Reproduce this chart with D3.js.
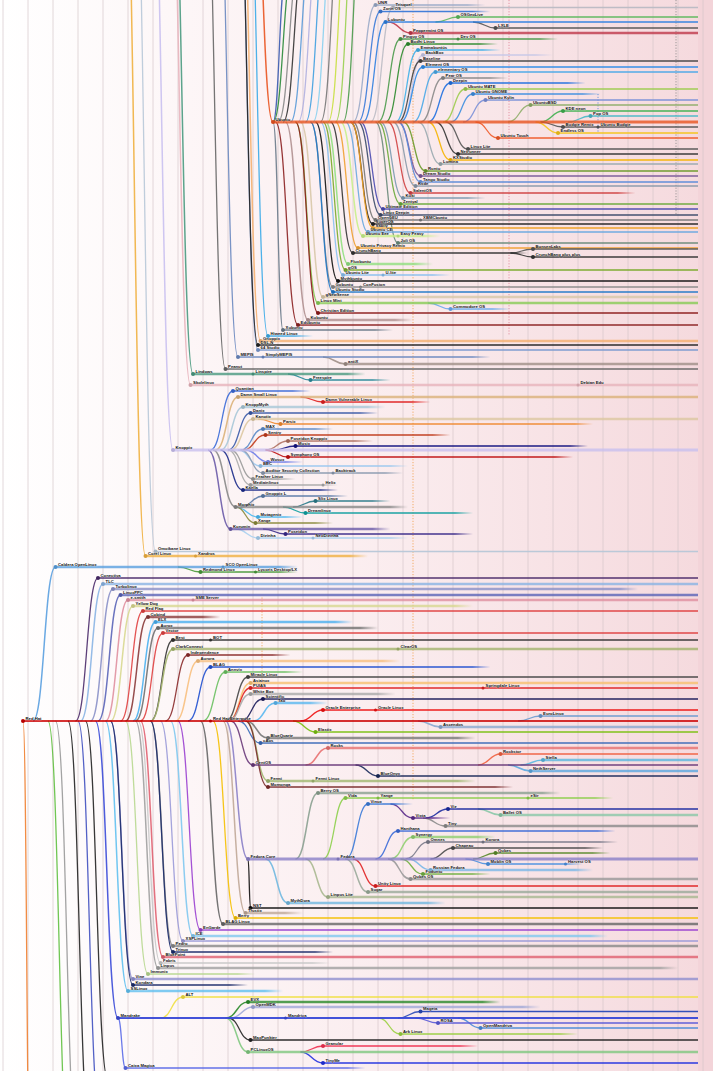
<!DOCTYPE html>
<html><head><meta charset="utf-8">
<script src="https://cdn.jsdelivr.net/npm/d3@7/dist/d3.min.js"></script>
<style>
body{margin:0;overflow:hidden;background:#fff}
text{font-family:"Liberation Sans",Arial,sans-serif}
</style>
</head><body>
<svg id="chart" width="713" height="1071"></svg>
<script>
// ---------- DATA ----------
const PRESENT = 2021.8;
const years = d3.range(1994, 2023);

// [name, parent, start year, end year, lane]
const debianTree = [
  ["Debian", null, 1993.6, PRESENT, -40],
  ["Corel Linux", "Debian", 1999.7, 2008.6, 111.2],
  ["Omoikane Linux", "Debian", 2000.1, PRESENT, 110.3],
  ["Knoppix", "Debian", 2000.8, PRESENT, 90],
  ["Lindows", "Debian", 2001.6, 2008.5, 74.8],
  ["Freespire", "Lindows", 2006.3, 2009.5, 76],
  ["Skolelinux", "Debian", 2001.5, PRESENT, 77],
  ["Peanut", "Debian", 2002.9, PRESENT, 73.8],
  ["MEPIS", "Debian", 2003.4, 2013.5, 71.4],
  ["antiX", "MEPIS", 2007.7, PRESENT, 72.8],
  ["64 Studio", "Debian", 2004.2, PRESENT, 70],
  ["DSL-N", "Debian", 2004.2, PRESENT, 69],
  ["Gnoppix", "Debian", 2004.3, PRESENT, 68.2],
  ["Hiweed Linux", "Debian", 2004.6, 2006.4, 67.2],
  ["Ubuntu", "Debian", 2004.8, PRESENT, 24.4]
];

const ubuntuTree = [
  ["UNR", "Ubuntu", 2008.9, 2013.3, 1.0],
  ["Trisquel", "Ubuntu", 2009.6, PRESENT, 1.5],
  ["Zorin OS", "Ubuntu", 2009.1, 2013.5, 2.3],
  ["OSGeoLive", "Lubuntu", 2012.2, PRESENT, 3.4],
  ["Lubuntu", "Ubuntu", 2009.3, PRESENT, 4.4],
  ["LXLE", "Lubuntu", 2013.7, PRESENT, 5.6],
  ["Peppermint OS", "Lubuntu", 2010.3, PRESENT, 6.6],
  ["Pinguy OS", "Ubuntu", 2009.9, 2016.2, 7.8],
  ["Bodhi Linux", "Ubuntu", 2010.2, 2013.8, 8.8],
  ["Emmabuntüs", "Ubuntu", 2010.6, 2013.9, 10],
  ["BackBox", "Ubuntu", 2010.8, 2016.0, 11],
  ["Baseline", "Ubuntu", 2010.7, PRESENT, 12.2],
  ["Element OS", "Ubuntu", 2010.8, PRESENT, 13.4],
  ["elementary OS", "Ubuntu", 2011.3, PRESENT, 14.4],
  ["Pear OS", "Ubuntu", 2011.6, 2014.2, 15.6],
  ["Deepin", "Ubuntu", 2011.9, 2017.3, 16.6],
  ["Ubuntu MATE", "Ubuntu", 2012.5, PRESENT, 17.8],
  ["Ubuntu GNOME", "Ubuntu", 2012.8, 2017.9, 18.8],
  ["Ubuntu Kylin", "Ubuntu", 2013.3, PRESENT, 20],
  ["UbuntuBSD", "Ubuntu", 2015.1, PRESENT, 21],
  ["KDE neon", "Ubuntu", 2016.4, PRESENT, 22.2],
  ["Pop OS", "Ubuntu", 2017.5, PRESENT, 23.2],
  ["Budgie Remix", "Ubuntu", 2016.4, PRESENT, 25.4],
  ["Endless OS", "Ubuntu", 2016.2, PRESENT, 26.6],
  ["Ubuntu Touch", "Ubuntu", 2013.8, PRESENT, 27.6],
  ["Linux Lite", "Ubuntu", 2012.6, PRESENT, 29.8],
  ["Netrunner", "Ubuntu", 2012.2, PRESENT, 30.8],
  ["KXStudio", "Ubuntu", 2011.9, PRESENT, 32],
  ["Lumina", "Ubuntu", 2011.5, PRESENT, 32.8],
  ["Runtu", "Ubuntu", 2010.9, PRESENT, 34.2],
  ["Dream Studio", "Ubuntu", 2010.7, PRESENT, 35.2],
  ["Tango Studio", "Ubuntu", 2010.7, PRESENT, 36.4],
  ["Kxde", "Ubuntu", 2010.5, PRESENT, 37.2],
  ["SalentOS", "Ubuntu", 2010.3, 2019.3, 38.6],
  ["Kuki", "Ubuntu", 2010.0, 2013.3, 39.6],
  ["Zentyal", "Ubuntu", 2009.9, PRESENT, 40.8],
  ["Ultimate Edition", "Ubuntu", 2009.2, PRESENT, 41.8],
  ["Linux Deepin", "Ubuntu", 2009.1, PRESENT, 43],
  ["OpenGEU", "Ubuntu", 2008.9, PRESENT, 44],
  ["SuperOS", "Ubuntu", 2008.8, PRESENT, 44.8],
  ["Sabily", "Ubuntu", 2008.8, PRESENT, 45.6],
  ["Ubuntu CE", "Ubuntu", 2008.6, PRESENT, 46.4],
  ["Ubuntu Eee", "Ubuntu", 2008.4, 2011.5, 47.2],
  ["Joli OS", "Ubuntu", 2009.8, PRESENT, 48.6],
  ["Ubuntu Privacy Remix", "Ubuntu", 2008.2, PRESENT, 49.6],
  ["CrunchBang", "Ubuntu", 2008.0, 2015.0, 50.6],
  ["BunsenLabs", "CrunchBang", 2015.2, PRESENT, 49.8],
  ["CrunchBang plus plus", "CrunchBang", 2015.2, PRESENT, 51.4],
  ["Fluxbuntu", "Ubuntu", 2007.8, 2011.2, 52.8],
  ["gOS", "Ubuntu", 2007.7, PRESENT, 54],
  ["Ubuntu Lite", "Ubuntu", 2007.6, 2011.9, 55],
  ["Mythbuntu", "Ubuntu", 2007.4, PRESENT, 56.2],
  ["Gobuntu", "Ubuntu", 2007.2, PRESENT, 57.4],
  ["Ubuntu Studio", "Ubuntu", 2007.2, PRESENT, 58.4],
  ["gNewSense", "Ubuntu", 2006.8, PRESENT, 59.4],
  ["Linux Mint", "Ubuntu", 2006.6, PRESENT, 60.6],
  ["Commodore OS", "Linux Mint", 2011.9, 2014.3, 61.8],
  ["Christian Edition", "Ubuntu", 2006.6, PRESENT, 62.6],
  ["Kubuntu", "Ubuntu", 2006.2, 2010.4, 64],
  ["Edubuntu", "Ubuntu", 2005.8, PRESENT, 65],
  ["Xubuntu", "Ubuntu", 2005.2, 2009.6, 66],
  ["Guadalinex", "Ubuntu", 2005.3, PRESENT, -4],
  ["Linkat", "Ubuntu", 2005.6, PRESENT, -6],
  ["Nova", "Ubuntu", 2005.9, PRESENT, -8],
  ["Impi Linux", "Ubuntu", 2006.1, PRESENT, -10],
  ["Molinux", "Ubuntu", 2006.4, PRESENT, -12],
  ["Baltix", "Ubuntu", 2006.7, PRESENT, -14],
  ["BOSS", "Ubuntu", 2007.0, PRESENT, -16],
  ["nUbuntu", "Ubuntu", 2007.3, PRESENT, -18],
  ["Ichthux", "Ubuntu", 2007.6, PRESENT, -20],
  ["Elbuntu", "Ubuntu", 2007.9, PRESENT, -22],
  ["Eeebuntu", "Ubuntu", 2008.2, PRESENT, -24],
  ["Ubuntu Server", "Ubuntu", 2008.5, PRESENT, -26]
];

const knoppixTree = [
  ["Quantian", "Knoppix", 2003.2, 2006.3, 78.2],
  ["Damn Small Linux", "Knoppix", 2003.4, PRESENT, 79.4],
  ["Damn Vulnerable Linux", "Damn Small Linux", 2006.8, 2011.1, 80.4],
  ["KnoppMyth", "Knoppix", 2003.6, 2009.3, 81.4],
  ["Danix", "Knoppix", 2003.9, 2009.0, 82.6],
  ["Kanotix", "Knoppix", 2004.0, PRESENT, 83.8],
  ["Parsix", "Kanotix", 2005.1, 2017.6, 84.8],
  ["MAX", "Knoppix", 2004.4, 2007.2, 85.8],
  ["Sentry", "Knoppix", 2004.5, 2011.9, 87],
  ["Poseidon Knoppix", "Knoppix", 2005.4, 2008.8, 88.2],
  ["Musix", "Knoppix", 2005.7, 2017.4, 89.2],
  ["Symphony OS", "Knoppix", 2005.4, 2016.8, 91.4],
  ["Wosux", "Knoppix", 2004.6, 2006.0, 92.4],
  ["BEC", "Knoppix", 2004.3, 2010.2, 93.2],
  ["Auditor Security Collection", "Knoppix", 2004.4, 2010.0, 94.6],
  ["Feather Linux", "Knoppix", 2004.0, 2005.7, 95.8],
  ["Mediainlinux", "Knoppix", 2003.9, 2007.4, 97],
  ["Kaella", "Knoppix", 2003.6, 2007.4, 98],
  ["Morphix", "Knoppix", 2003.3, 2010.2, 101.4],
  ["Gnoppix L", "Morphix", 2004.4, 2007.8, 99.2],
  ["Slix Linux", "Morphix", 2006.5, 2009.5, 100.2],
  ["Dreamlinux", "Morphix", 2006.1, 2012.8, 102.6],
  ["Mutagenix", "Morphix", 2004.2, 2006.0, 103.4],
  ["Xange", "Morphix", 2004.1, 2007.2, 104.6],
  ["Kurumin", "Knoppix", 2003.1, 2009.5, 105.8],
  ["Poseidon", "Kurumin", 2005.3, 2012.8, 106.8],
  ["Dizinha", "Kurumin", 2004.2, 2010.2, 107.6]
];

const redhatTree = [
  ["Red Hat", null, 1994.8, PRESENT, 144.2],
  ["Caldera OpenLinux", "Red Hat", 1996.1, 2005.8, 113.4],
  ["Redmond Linux", "Caldera OpenLinux", 2001.9, 2005.8, 114.4],
  ["Conectiva", "Red Hat", 1997.8, PRESENT, 115.6],
  ["TLC", "Red Hat", 1998.0, PRESENT, 116.8],
  ["Turbolinux", "Red Hat", 1998.4, 2019.4, 117.8],
  ["LinuxPPC", "Red Hat", 1998.7, PRESENT, 119],
  ["e-smith", "Red Hat", 1999.0, PRESENT, 120],
  ["Yellow Dog", "Red Hat", 1999.2, 2012.8, 121.2],
  ["Red Flag", "Red Hat", 1999.6, PRESENT, 122.2],
  ["Cobind", "Red Hat", 1999.8, 2002.7, 123.4],
  ["ELX", "Red Hat", 2000.1, 2008.0, 124.4],
  ["Aurox", "Red Hat", 2000.2, 2009.0, 125.6],
  ["Vector", "Red Hat", 2000.4, PRESENT, 126.6],
  ["Best", "Red Hat", 2000.8, PRESENT, 128],
  ["ClarkConnect", "Red Hat", 2000.8, PRESENT, 129.8],
  ["Independence", "Red Hat", 2001.4, 2005.5, 131],
  ["Aurora", "Red Hat", 2001.8, 2009.9, 132.2],
  ["BLAG", "Red Hat", 2002.3, 2013.5, 133.4],
  ["Annvix", "Red Hat", 2002.9, 2006.0, 134.4],
  ["Miracle Linux", "Red Hat", 2003.8, PRESENT, 135.4],
  ["Asianux", "Red Hat", 2003.9, PRESENT, 136.6],
  ["PUIAS", "Red Hat", 2003.9, PRESENT, 137.6],
  ["White Box", "Red Hat", 2003.9, 2009.7, 138.8],
  ["Scientific", "Red Hat", 2004.4, PRESENT, 139.8],
  ["Tao", "Red Hat", 2004.9, 2007.0, 140.6],
  ["Oracle Enterprise", "Red Hat", 2006.8, PRESENT, 142],
  ["EuroLinux", "Red Hat", 2015.5, PRESENT, 143.2],
  ["Ascendos", "Red Hat", 2011.5, PRESENT, 145.4],
  ["Elastix", "Red Hat", 2006.5, PRESENT, 146.4],
  ["BlueQuartz", "Red Hat", 2004.6, 2012.9, 147.6],
  ["cAos", "Red Hat", 2004.3, PRESENT, 148.6],
  ["CentOS", "Red Hat", 2004.0, PRESENT, 153],
  ["Rocks", "CentOS", 2007.0, PRESENT, 149.6],
  ["Rockstor", "CentOS", 2013.9, PRESENT, 150.8],
  ["Stella", "CentOS", 2015.6, PRESENT, 152],
  ["NethServer", "CentOS", 2015.1, PRESENT, 154.2],
  ["BlueOnyx", "CentOS", 2009.0, PRESENT, 155.2],
  ["Fermi", "Red Hat", 2004.6, 2012.9, 156.2],
  ["Momonga", "Red Hat", 2004.6, 2014.4, 157.4],
  ["Trustix", "Red Hat", 2003.7, 2006.0, 182.6],
  ["Berry", "Red Hat", 2003.3, PRESENT, 183.6],
  ["BLAG Linux", "Red Hat", 2002.8, PRESENT, 184.8],
  ["EnGarde", "Red Hat", 2001.9, PRESENT, 186],
  ["ICE", "Red Hat", 2001.6, 2018.2, 187.2],
  ["XSPLinux", "Red Hat", 2001.2, PRESENT, 188.2],
  ["Pedro", "Red Hat", 2000.8, PRESENT, 189.2],
  ["Trinux", "Red Hat", 2000.8, 2007.2, 190.4],
  ["BluePoint", "Red Hat", 2000.4, PRESENT, 191.4],
  ["Fabris", "Red Hat", 2000.3, 2007.1, 192.6],
  ["Linpus", "Red Hat", 2000.2, 2021.0, 193.6],
  ["Immunix", "Red Hat", 1999.8, 2004.1, 194.8],
  ["Vine", "Red Hat", 1999.2, PRESENT, 195.8],
  ["Kondara", "Red Hat", 1999.2, 2003.8, 197],
  ["SSLinux", "Red Hat", 1999.0, 2005.2, 198.2],
  ["Mandrake", "Red Hat", 1998.6, PRESENT, 203.6],
  ["Bestlinux", "Red Hat", 1998.2, 2002.0, 216],
  ["Linux Pro", "Red Hat", 1995.1, PRESENT, 240],
  ["Kheops", "Red Hat", 1996.7, PRESENT, 236],
  ["Halloween", "Red Hat", 1997.0, PRESENT, 232],
  ["Mandarin", "Red Hat", 1997.5, PRESENT, 228],
  ["Definite", "Red Hat", 1997.9, PRESENT, 224]
];

const fedoraTree = [
  ["Fedora Core", "Red Hat", 2003.8, PRESENT, 171.8],
  ["Berry OS", "Fedora Core", 2006.6, 2016.3, 158.6],
  ["Vida", "Fedora Core", 2007.7, 2018.4, 159.6],
  ["Vinux", "Fedora Core", 2008.6, 2010.4, 160.8],
  ["Vixta", "Vinux", 2010.4, 2011.9, 163.6],
  ["Viz", "Vixta", 2011.8, PRESENT, 161.8],
  ["Ballet OS", "Viz", 2013.9, PRESENT, 163],
  ["Tiny", "Vixta", 2011.7, PRESENT, 165.2],
  ["Hanthana", "Fedora Core", 2009.8, 2018.5, 166.2],
  ["Synergy", "Fedora Core", 2010.4, 2013.7, 167.4],
  ["Omnes", "Fedora Core", 2011.0, 2018.6, 168.4],
  ["Chapeau", "Fedora Core", 2012.0, 2018.0, 169.6],
  ["Qubes", "Fedora Core", 2013.7, 2018.3, 170.6],
  ["Moblin OS", "Fedora Core", 2013.4, 2017.2, 172.8],
  ["Russian Fedora", "Fedora Core", 2011.1, 2017.6, 174],
  ["Fuduntu", "Fedora Core", 2010.8, 2013.5, 174.8],
  ["Qubes OS", "Fedora Core", 2010.3, PRESENT, 175.8],
  ["Unity Linux", "Fedora Core", 2008.9, PRESENT, 177.2],
  ["Sugar", "Fedora Core", 2008.6, PRESENT, 178.4],
  ["Linpus Lite", "Fedora Core", 2007.0, PRESENT, 179.4],
  ["MythDora", "Fedora Core", 2005.4, 2011.7, 180.6],
  ["NST", "Fedora Core", 2003.9, PRESENT, 181.6]
];

const mandrakeTree = [
  ["ALT", "Mandrake", 2001.2, PRESENT, 199.4],
  ["EVX", "Mandrake", 2003.8, 2013.9, 200.4],
  ["OpenMDK", "Mandrake", 2004.0, 2015.5, 201.4],
  ["Mageia", "Mandrake", 2010.7, PRESENT, 202.3],
  ["ROSA", "Mandrake", 2011.4, PRESENT, 204.6],
  ["OpenMandriva", "Mandrake", 2013.1, PRESENT, 205.6],
  ["Ark Linux", "Mandrake", 2009.9, 2017.0, 206.8],
  ["MaxPunkter", "Mandrake", 2003.9, PRESENT, 208],
  ["PCLinuxOS", "Mandrake", 2003.8, PRESENT, 210.4],
  ["Granular", "PCLinuxOS", 2006.8, 2013.0, 209.2],
  ["TinyMe", "PCLinuxOS", 2006.8, PRESENT, 212.6],
  ["Caixa Magica", "Mandrake", 1998.9, 2008.5, 213.6]
];

// [line, new name, year]
const renames = [
  ["Corel Linux", "Xandros", 2001.7],
  ["Lindows", "Linspire", 2004.0],
  ["Skolelinux", "Debian Edu", 2017.0],
  ["MEPIS", "SimplyMEPIS", 2004.4],
  ["Pinguy OS", "Dev OS", 2012.2],
  ["Budgie Remix", "Ubuntu Budgie", 2017.8],
  ["OpenGEU", "XBMCbuntu", 2010.7],
  ["Ubuntu Eee", "Easy Peasy", 2009.8],
  ["Ubuntu Lite", "U-lite", 2009.2],
  ["Gobuntu", "ConFusion", 2008.3],
  ["Auditor Security Collection", "Backtrack", 2007.2],
  ["Mediainlinux", "Helix", 2006.8],
  ["Dizinha", "NeoDizinha", 2006.4],
  ["Red Hat", "Red Hat Enterprise", 2002.3],
  ["Caldera OpenLinux", "SCO OpenLinux", 2002.8],
  ["Redmond Linux", "Lycoris Desktop/LX", 2004.1],
  ["e-smith", "SME Server", 2001.6],
  ["Best", "BOT", 2002.3],
  ["ClarkConnect", "ClearOS", 2009.8],
  ["PUIAS", "Springdale Linux", 2013.2],
  ["Oracle Enterprise", "Oracle Linux", 2008.9],
  ["Fedora Core", "Fedora", 2007.4],
  ["Vida", "Yange", 2009.0],
  ["Vida", "eSir", 2015.0],
  ["Omnes", "Korora", 2013.2],
  ["Moblin OS", "Harvest OS", 2016.5],
  ["Mandrake", "Mandriva", 2005.3],
  ["Fermi", "Fermi Linux", 2006.4]
];

// [year, from lane, to lane, colour]
const dottedLinks = [
  [2010.4, 0, 160, "#f2a04e"],
  [2014.24, 0, 67, "#e0889a"],
  [2020.92, 0, 43, "#8a8a8a"],
  [2017.8, 18.8, 26.6, "#5a8ad8"],
  [2004.36, 119.5, 138, "#f2a04e"]
];

// ---------- STYLES ----------
const colors = {
  "Debian":"#d70a53","Corel Linux":"#f0b040","Omoikane Linux":"#b8c8d8","Knoppix":"#c9c0ef","Lindows":"#4a9a80",
  "Freespire":"#2a8a9a","Skolelinux":"#e8b4bc","Peanut":"#666","MEPIS":"#6a88c0","antiX":"#a09088","64 Studio":"#7a9ad0",
  "DSL-N":"#222","Gnoppix":"#f5b070","Hiweed Linux":"#3aaae8","Ubuntu":"#e95420",
  "UNR":"#9aaac8","Trisquel":"#bbbbc4","Zorin OS":"#3a7ad8","OSGeoLive":"#5cb85c","Lubuntu":"#2f80e0","LXLE":"#555",
  "Peppermint OS":"#c0394b","Pinguy OS":"#4a9a4a","Bodhi Linux":"#2e8b2e","Emmabuntüs":"#40b0e8","BackBox":"#c8c8e8",
  "Baseline":"#444","Element OS":"#2b8be8","elementary OS":"#4aa8e8","Pear OS":"#888","Deepin":"#1f6fe0",
  "Ubuntu MATE":"#9ccc4e","Ubuntu GNOME":"#3d8ee0","Ubuntu Kylin":"#7a90d8","UbuntuBSD":"#8fae6a","KDE neon":"#3fb04f",
  "Pop OS":"#48b8c8","Budgie Remix":"#555","Endless OS":"#f5c518","Ubuntu Touch":"#f05a28","Linux Lite":"#555",
  "Netrunner":"#333","KXStudio":"#f5b400","Lumina":"#9aaab0","Runtu":"#6a9a2a","Dream Studio":"#7a5a9a",
  "Tango Studio":"#5a8ad8","Kxde":"#8a9aaa","SalentOS":"#d04040","Kuki":"#7a9ab0","Zentyal":"#6aaa3a",
  "Ultimate Edition":"#4a4ab0","Linux Deepin":"#3a4a6a","OpenGEU":"#777","SuperOS":"#222","Sabily":"#f0a020",
  "Ubuntu CE":"#6aa8e0","Ubuntu Eee":"#c8f08a","Joli OS":"#6a8a7a","Ubuntu Privacy Remix":"#f0a030","CrunchBang":"#333",
  "BunsenLabs":"#555","CrunchBang plus plus":"#333","Fluxbuntu":"#90e080","gOS":"#7aaa2a","Ubuntu Lite":"#8ac0f0",
  "Mythbuntu":"#111","Gobuntu":"#8a8a8a","Ubuntu Studio":"#1f78c8","gNewSense":"#d8c8a8","Linux Mint":"#88cc55",
  "Commodore OS":"#6aaaf0","Christian Edition":"#8b1a1a","Kubuntu":"#b09090","Edubuntu":"#8b2020","Xubuntu":"#6a7a8a",
  "Guadalinex":"#3a5ab0","Linkat":"#2a8a3a","Nova":"#888","Impi Linux":"#333","Molinux":"#5a9ad8","Baltix":"#b0b0e0",
  "BOSS":"#40a0e0","nUbuntu":"#8ad0f0","Ichthux":"#777","Elbuntu":"#c8e040","Eeebuntu":"#9ad050","Ubuntu Server":"#4a9a4a",
  "Quantian":"#3a6ad8","Damn Small Linux":"#dbb27a","Damn Vulnerable Linux":"#e02020","KnoppMyth":"#a8c8d8",
  "Danix":"#3a5aa8","Kanotix":"#ddc8a2","Parsix":"#f08a30","MAX":"#5a8ac8","Sentry":"#c03a1a","Poseidon Knoppix":"#b07060",
  "Musix":"#101080","Symphony OS":"#c01010","Wosux":"#6a7ae8","BEC":"#9ac8f0","Auditor Security Collection":"#8a9ab0",
  "Feather Linux":"#999","Mediainlinux":"#aaa","Kaella":"#1a2a8a","Morphix":"#888","Gnoppix L":"#5a7aa8",
  "Slix Linux":"#2a7a8a","Dreamlinux":"#10a0a0","Mutagenix":"#4ab8f0","Xange":"#8a8a3a","Kurumin":"#6a5aa8",
  "Poseidon":"#3a2a8a","Dizinha":"#a8d0f0",
  "Red Hat":"#cc0000","Caldera OpenLinux":"#5aa0e0","Redmond Linux":"#4a9a3a","Conectiva":"#4a2a6a","TLC":"#8ab4e4",
  "Turbolinux":"#8a90c8","LinuxPPC":"#5a64b8","e-smith":"#e090a0","Yellow Dog":"#d8d890","Red Flag":"#e04040",
  "Cobind":"#8a3a3a","ELX":"#4ab0f0","Aurox":"#707070","Vector":"#e04040","Best":"#333","ClarkConnect":"#a4b46e",
  "Independence":"#8a2a2a","Aurora":"#f8c080","BLAG":"#2050d0","Annvix":"#6ac060","Miracle Linux":"#444",
  "Asianux":"#f8c070","PUIAS":"#e02020","White Box":"#aaa","Scientific":"#1a1a5a","Tao":"#5ab8f0",
  "Oracle Enterprise":"#ee1111","EuroLinux":"#6a9ad0","Ascendos":"#8aa8d0","Elastix":"#7ac010","BlueQuartz":"#777",
  "cAos":"#3a6ab8","CentOS":"#6a3a7a","Rocks":"#e87070","Rockstor":"#f06040","Stella":"#5ab8e0","NethServer":"#5aa8e0",
  "BlueOnyx":"#1a2a5a","Fermi":"#a0b870","Momonga":"#7a2a2a","Trustix":"#c0a898","Berry":"#f5c000","BLAG Linux":"#666",
  "EnGarde":"#9a40d0","ICE":"#80c8f0","XSPLinux":"#9a9ad8","Pedro":"#888","Trinux":"#1a2a6a","BluePoint":"#e06070",
  "Fabris":"#c8c8c8","Linpus":"#a0a0a0","Immunix":"#b8d890","Vine":"#9090d0","Kondara":"#1a2a6a","SSLinux":"#60c0f0",
  "Mandrake":"#3a4ad8","Bestlinux":"#222","Linux Pro":"#f08030","Kheops":"#60c040","Halloween":"#999",
  "Mandarin":"#222","Definite":"#4050c0",
  "Fedora Core":"#8a80c8","Berry OS":"#8aa090","Vida":"#8ccf4a","Vinux":"#3a7ad8","Vixta":"#5a2a8a","Viz":"#1a2aa0",
  "Ballet OS":"#8ac8a8","Tiny":"#8a8a8a","Hanthana":"#3a6ad8","Synergy":"#90d070","Omnes":"#7a7a8a","Chapeau":"#4a4a4a",
  "Qubes":"#5a8a2a","Moblin OS":"#4a90e0","Russian Fedora":"#7ab8e8","Fuduntu":"#70b040","Qubes OS":"#999",
  "Unity Linux":"#e02020","Sugar":"#9aaa9a","Linpus Lite":"#a8b890","MythDora":"#70b8e0","NST":"#111",
  "ALT":"#f0e040","EVX":"#2a8a2a","OpenMDK":"#a0a8d8","Mageia":"#2a4ab8","ROSA":"#5a5ad8","OpenMandriva":"#4a8ad8",
  "Ark Linux":"#9ad040","MaxPunkter":"#222","PCLinuxOS":"#80c880","Granular":"#f03050","TinyMe":"#2030e0",
  "Caixa Magica":"#5a6ae8"
};
const widths = {
  "Ubuntu":3,"Knoppix":3,"Fedora Core":3,"Red Hat":2.2,"Mandrake":2,"Debian":3
};
const heavy = new Set(["Damn Small Linux","Kanotix","KnoppMyth","Morphix","Kurumin","TLC","LinuxPPC","Yellow Dog",
  "ELX","Aurox","ClarkConnect","Aurora","Asianux","White Box","Tao","BlueQuartz","Rocks","Stella","NethServer","Fermi",
  "Berry OS","Ballet OS","Tiny","Synergy","Russian Fedora","Qubes OS","Sugar","Linpus Lite","MythDora","Trustix",
  "BLAG Linux","ICE","Pedro","BluePoint","Linpus","Vine","SSLinux","EVX","OpenMDK","PCLinuxOS","Linux Mint","Kubuntu",
  "Peppermint OS","Corel Linux","Lindows","Skolelinux","antiX","Ubuntu Eee","Fluxbuntu","Ascendos","Cobind","gNewSense",
  "Gnoppix","Caldera OpenLinux","e-smith","Turbolinux"]);

// ---------- CHART ----------
const W = 713, H = 1071;
const x = d3.scaleLinear().domain([1994, 2022]).range([3, 703]);
const y = d3.scaleLinear().domain([0, 214.2]).range([0, 1071]);
const DX = 0.9; // connector length in years

const nodes = [debianTree, ubuntuTree, knoppixTree, redhatTree, fedoraTree, mandrakeTree].flat()
  .map(([name, parent, start, end, lane]) => ({name, parent, start, end, lane}));
const byName = new Map(nodes.map(d => [d.name, d]));
const palette = d3.schemeTableau10;
const col = (d, i) => colors[d.name] || palette[i % 10];
const lw = d => widths[d.name] || (heavy.has(d.name) ? 2.4 : 1.3);

const svg = d3.select("#chart");
const defs = svg.append("defs");
const bg = defs.append("linearGradient").attr("id", "bg").attr("x1", 0).attr("x2", 1).attr("y1", 0).attr("y2", 0);
bg.append("stop").attr("offset", "0%").attr("stop-color", "#ffffff");
bg.append("stop").attr("offset", "50%").attr("stop-color", "#fbeef0");
bg.append("stop").attr("offset", "100%").attr("stop-color", "#f5d9dd");
svg.append("rect").attr("width", W).attr("height", H).attr("fill", "url(#bg)");
svg.append("rect").attr("x", x(PRESENT)).attr("width", W - x(PRESENT)).attr("height", H)
  .attr("fill", "#f1cfd5").attr("opacity", 0.55);

// year grid
svg.append("g").selectAll("line").data(years).join("line")
  .attr("x1", d => x(d)).attr("x2", d => x(d)).attr("y1", 0).attr("y2", H)
  .attr("stroke", "#d6c6ca").attr("stroke-width", 0.9).attr("opacity", 0.75);

// dotted links
svg.append("g").selectAll("line").data(dottedLinks).join("line")
  .attr("x1", d => x(d[0])).attr("x2", d => x(d[0]))
  .attr("y1", d => y(d[1])).attr("y2", d => y(d[2]))
  .attr("stroke", d => d[3]).attr("stroke-width", 1).attr("stroke-dasharray", "1.2,1.6").attr("opacity", 0.85);

// fade gradients for ended lines
nodes.forEach((d, i) => {
  d.color = col(d, i);
  d.w = lw(d);
  if (d.end < PRESENT) {
    const g = defs.append("linearGradient").attr("id", "f" + i).attr("gradientUnits", "userSpaceOnUse")
      .attr("x1", x(d.end) - 18).attr("x2", x(d.end)).attr("y1", 0).attr("y2", 0);
    g.append("stop").attr("offset", 0).attr("stop-color", d.color).attr("stop-opacity", 1);
    g.append("stop").attr("offset", 1).attr("stop-color", d.color).attr("stop-opacity", 0);
    d.stroke = "url(#f" + i + ")";
  } else d.stroke = d.color;
});

// connectors
const linkPath = d => {
  const p = byName.get(d.parent);
  const x0 = x(Math.max(p.start, d.start - DX)), y0 = y(p.lane);
  const x1 = x(d.start), y1 = y(d.lane);
  const xm = (x0 + x1) / 2;
  const path = d3.path();
  path.moveTo(x0, y0);
  path.bezierCurveTo(xm, y0, xm, y1, x1, y1);
  return path.toString();
};
svg.append("g").attr("fill", "none").selectAll("path")
  .data(nodes.filter(d => d.parent)).join("path")
  .attr("d", linkPath).attr("stroke", d => d.color)
  .attr("stroke-width", d => Math.min(d.w, 1.5)).attr("opacity", 0.9);

// timelines
svg.append("g").selectAll("line").data(nodes).join("line")
  .attr("x1", d => x(d.start)).attr("x2", d => x(d.end))
  .attr("y1", d => y(d.lane)).attr("y2", d => y(d.lane))
  .attr("stroke", d => d.stroke).attr("stroke-width", d => d.w)
  .attr("opacity", d => d.w > 2 ? 0.8 : 0.95);

// start dots
svg.append("g").selectAll("circle").data(nodes).join("circle")
  .attr("cx", d => x(d.start)).attr("cy", d => y(d.lane)).attr("r", 2)
  .attr("fill", d => d3.color(d.color).darker(0.3));

// rename dots
const renameData = renames.map(([base, name, year]) => ({base: byName.get(base), name, year}));
svg.append("g").selectAll("circle").data(renameData).join("circle")
  .attr("cx", d => x(d.year)).attr("cy", d => y(d.base.lane)).attr("r", 1.5)
  .attr("fill", d => d3.color(d.base.color).darker(0.3));

// labels (only those inside the picture)
const labels = nodes.map(d => ({name: d.name, year: d.start, lane: d.lane}))
  .concat(renameData.map(d => ({name: d.name, year: d.year, lane: d.base.lane})))
  .filter(d => y(d.lane) > 4 && y(d.lane) < H);
svg.append("g").selectAll("text").data(labels).join("text")
  .attr("x", d => x(d.year) + 2.6).attr("y", d => y(d.lane) - 1.1)
  .attr("font-size", 4.2).attr("font-weight", "bold").attr("fill", "#111")
  .attr("stroke", "#fff").attr("stroke-width", 0.6).attr("stroke-opacity", 0.5)
  .attr("paint-order", "stroke")
  .text(d => d.name);
</script>
</body></html>
